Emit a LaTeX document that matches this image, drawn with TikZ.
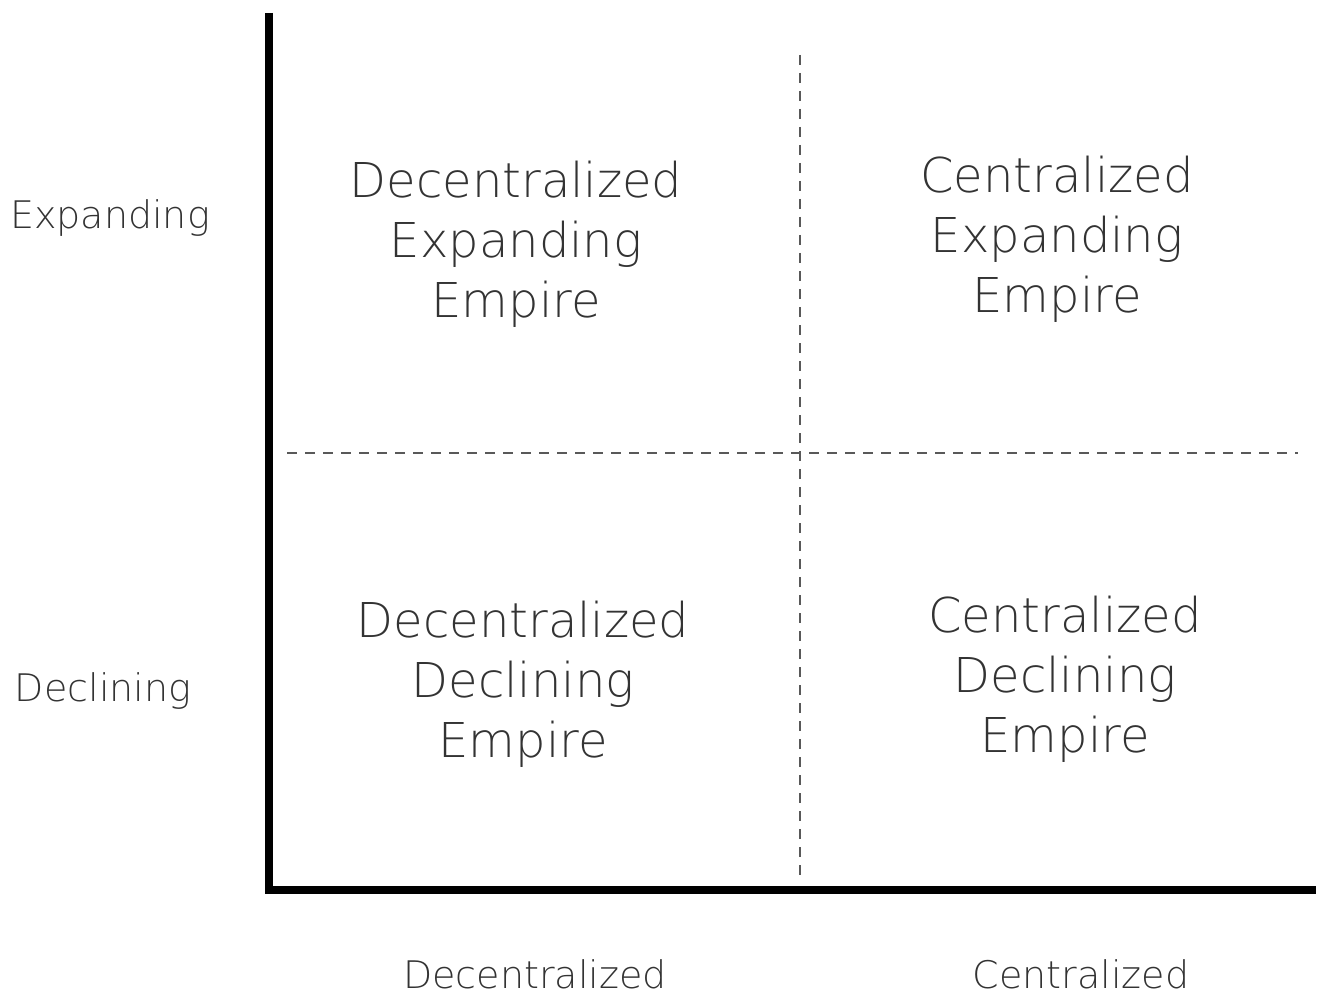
\documentclass[tikz,border=0pt]{standalone}
\usepackage{fontspec}
\setmainfont{DejaVu Sans ExtraLight}
\begin{document}
\begin{tikzpicture}[x=1pt, y=-1pt,
    quad/.style={align=center, text=black!80, font=\fontsize{48}{60}\selectfont},
    axislabel/.style={text=black!80, font=\fontsize{38}{46}\selectfont},
    axis/.style={line width=8pt},
    divider/.style={line width=2pt, black!65, dash pattern=on 10pt off 8pt}]
    \useasboundingbox (0,0) rectangle (1324,992);

    % Nodes
    \node (decexp) [quad] at (516,244) {Decentralized\\Expanding\\Empire};
    \node (cenexp) [quad] at (1057,239) {Centralized\\Expanding\\Empire};
    \node (decdec) [quad] at (523,684) {Decentralized\\Declining\\Empire};
    \node (cendec) [quad] at (1065,679) {Centralized\\Declining\\Empire};
    \node (expanding) [axislabel] at (110,218) {Expanding};
    \node (declining) [axislabel] at (103,691) {Declining};
    \node (decentral) [axislabel] at (535,974) {Decentralized};
    \node (central) [axislabel] at (1081,974) {Centralized};

    % Axes
    \coordinate (top) at (269,13);
    \coordinate (origin) at (269,890);
    \coordinate (right) at (1316,890);
    \draw[axis] (top) -- (origin) -- (right);

    % Dividers
    \coordinate (hleft) at (287,453);
    \coordinate (hright) at (1298,453);
    \coordinate (vtop) at (800,55);
    \coordinate (vbottom) at (800,875);
    \draw[divider] (hleft) -- (hright);
    \draw[divider] (vtop) -- (vbottom);
  \end{tikzpicture}
\end{document}
